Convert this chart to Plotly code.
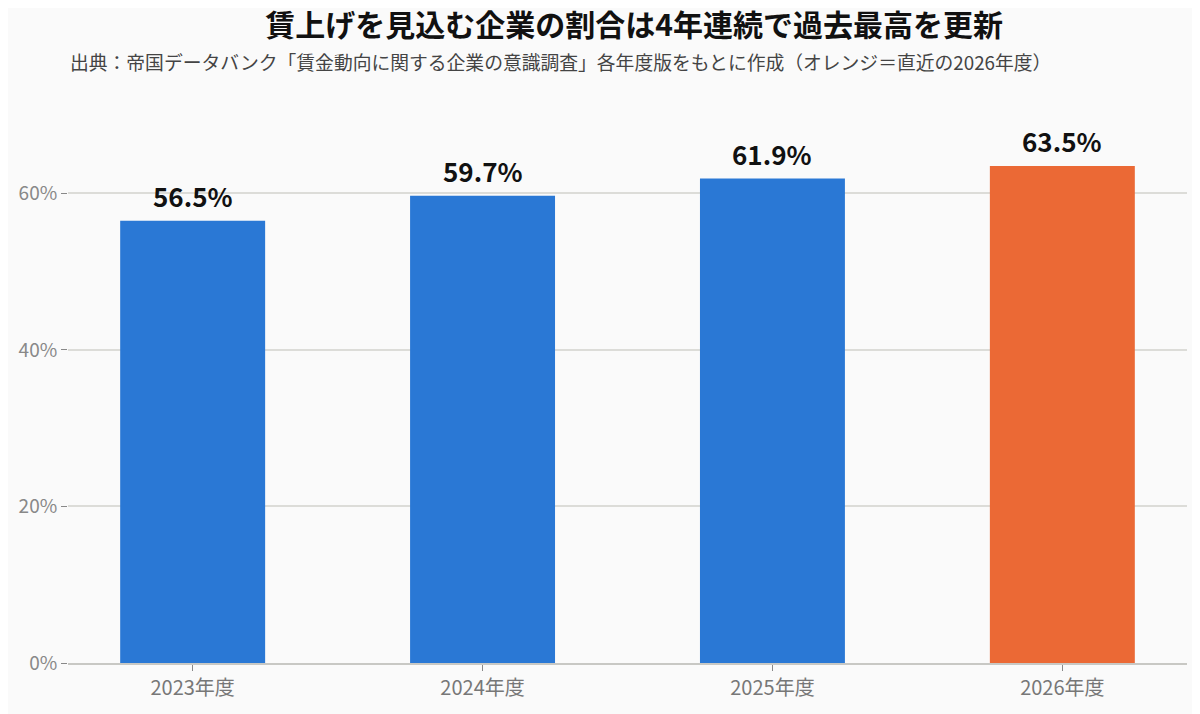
import plotly.graph_objects as go

categories = ["2023年度", "2024年度", "2025年度", "2026年度"]
values = [56.5, 59.7, 61.9, 63.5]
bar_colors = ["#2a78d5", "#2a78d5", "#2a78d5", "#eb6935"]
labels = [f"{v:.1f}%" for v in values]
y_ticks = [0, 20, 40, 60]
y_tick_labels = ["0%", "20%", "40%", "60%"]

FONT = "Noto Sans CJK JP"

fig = go.Figure(go.Bar(
    x=categories, y=values,
    marker=dict(color=bar_colors, line=dict(width=0)),
    width=0.5,
    cliponaxis=False,
))

annotations = [dict(
    text="出典：帝国データバンク「賃金動向に関する企業の意識調査」各年度版をもとに作成（オレンジ＝直近の2026年度）",
    xref="paper", yref="paper", x=0, y=1.0, xshift=0, yshift=54,
    xanchor="left", yanchor="middle", showarrow=False,
    font=dict(family=FONT, size=18.8, color="#444444"),
)]
for c, v, t in zip(categories, values, labels):
    annotations.append(dict(
        x=c, y=v, xref="x", yref="y", text=f"<b>{t}</b>",
        showarrow=False, xanchor="center", yanchor="middle", yshift=25,
        font=dict(family=FONT, size=26, color="#111111"),
    ))

fig.update_layout(
    width=1200, height=714,
    paper_bgcolor="#fafafa", plot_bgcolor="#fafafa",
    margin=dict(l=60, r=21, t=107, b=59),
    font=dict(family=FONT),
    showlegend=False,
    title=dict(
        text="<b>賃上げを見込む企業の割合は4年連続で過去最高を更新</b>",
        x=0.5217, xanchor="center", y=0.975, yanchor="middle",
        font=dict(family=FONT, size=30, color="#111111"),
    ),
    annotations=annotations,
    xaxis=dict(
        range=[-0.43, 3.43],
        showline=True, linecolor="#c8c8c4", linewidth=2,
        ticks="outside", ticklen=6, tickcolor="#888888",
        tickfont=dict(family=FONT, size=20, color="#777777"),
        showgrid=False,
    ),
    yaxis=dict(
        range=[0, 70],
        tickvals=y_ticks, ticktext=y_tick_labels,
        ticks="outside", ticklen=6, tickcolor="#888888",
        tickfont=dict(family=FONT, size=19, color="#888888"),
        showgrid=True, gridcolor="#dcdcd8", gridwidth=1.5,
        zeroline=False, showline=False,
    ),
    bargap=0.5,
)

fig.write_html("out.html")
